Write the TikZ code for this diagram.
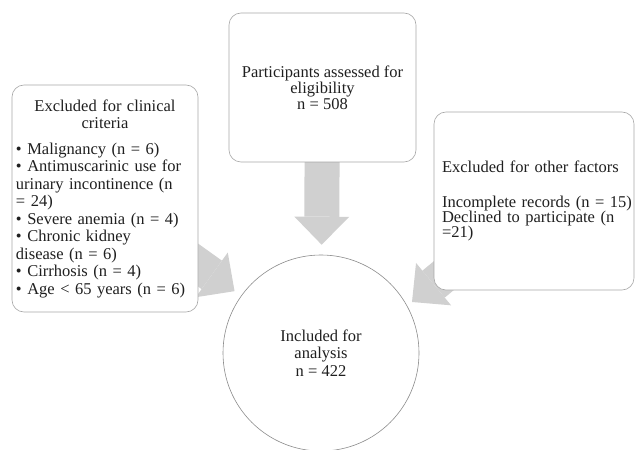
\documentclass[tikz,border=0pt]{standalone}
\usepackage{fontspec}
\setmainfont{Liberation Serif}
\usetikzlibrary{arrows.meta,backgrounds}
\definecolor{boxline}{HTML}{A8A8A8}
\definecolor{ringline}{HTML}{8C8C8C}
\definecolor{flowgray}{HTML}{D0D0D0}

\tikzset{
  panel/.style={draw=boxline, fill=white, rounded corners=12bp, line width=0.6bp,
    inner sep=0pt, text=black!88, font=\fontsize{16.5bp}{16bp}\selectfont},
  flow/.style={draw=flowgray, line width=35bp,
    -{Triangle[length=28bp,width=55bp,line width=0pt]}}
}

\begin{document}
\begin{tikzpicture}[x=1bp,y=-1bp]
  \useasboundingbox (0,0) rectangle (635,450);
  % boxes
  \node[panel, minimum width=187bp, minimum height=149bp, align=center] (elig) at (322.5,87.5)
    {Participants assessed for\\ eligibility\\ n = 508};
  \node[panel, minimum width=186bp, minimum height=227bp, text width=178bp,
    font=\fontsize{16.5bp}{17.5bp}\selectfont] (clin) at (105,198.5)
    {\setlength{\parindent}{0pt}{\centering Excluded for clinical\\ criteria\par}
     \vspace{8bp}\raggedright
     • Malignancy (n = 6)\\
     • Antimuscarinic use for\\
     urinary incontinence (n\\
     = 24)\\
     • Severe anemia (n = 4)\\
     • Chronic kidney\\
     disease (n = 6)\\
     • Cirrhosis (n = 4)\\
     • Age < 65 years (n = 6)};
  \node[panel, minimum width=200bp, minimum height=178bp, text width=184bp, align=left,
    font=\fontsize{16.5bp}{15bp}\selectfont] (other) at (534,201)
    {Excluded for other factors\\[20bp]
     \mbox{Incomplete records (n = 15)}\\
     Declined to participate (n\\
     =21)};
  \node[draw=ringline, fill=white, circle, line width=0.6bp, minimum size=196bp, inner sep=0pt,
    align=center, text=black!88, font=\fontsize{16.5bp}{17.5bp}\selectfont] (incl) at (321,353)
    {Included for\\ analysis\\ n = 422};
  \coordinate (otip) at (412,302);
  % block arrows, behind the boxes
  \begin{scope}[on background layer]
    \draw[flow, shorten >=10bp] (elig.center) -- (incl);
    \draw[flow, shorten >=8bp] (clin.center) -- (incl);
    \draw[flow] (other.center) -- (otip);
  \end{scope}
\end{tikzpicture}
\end{document}
